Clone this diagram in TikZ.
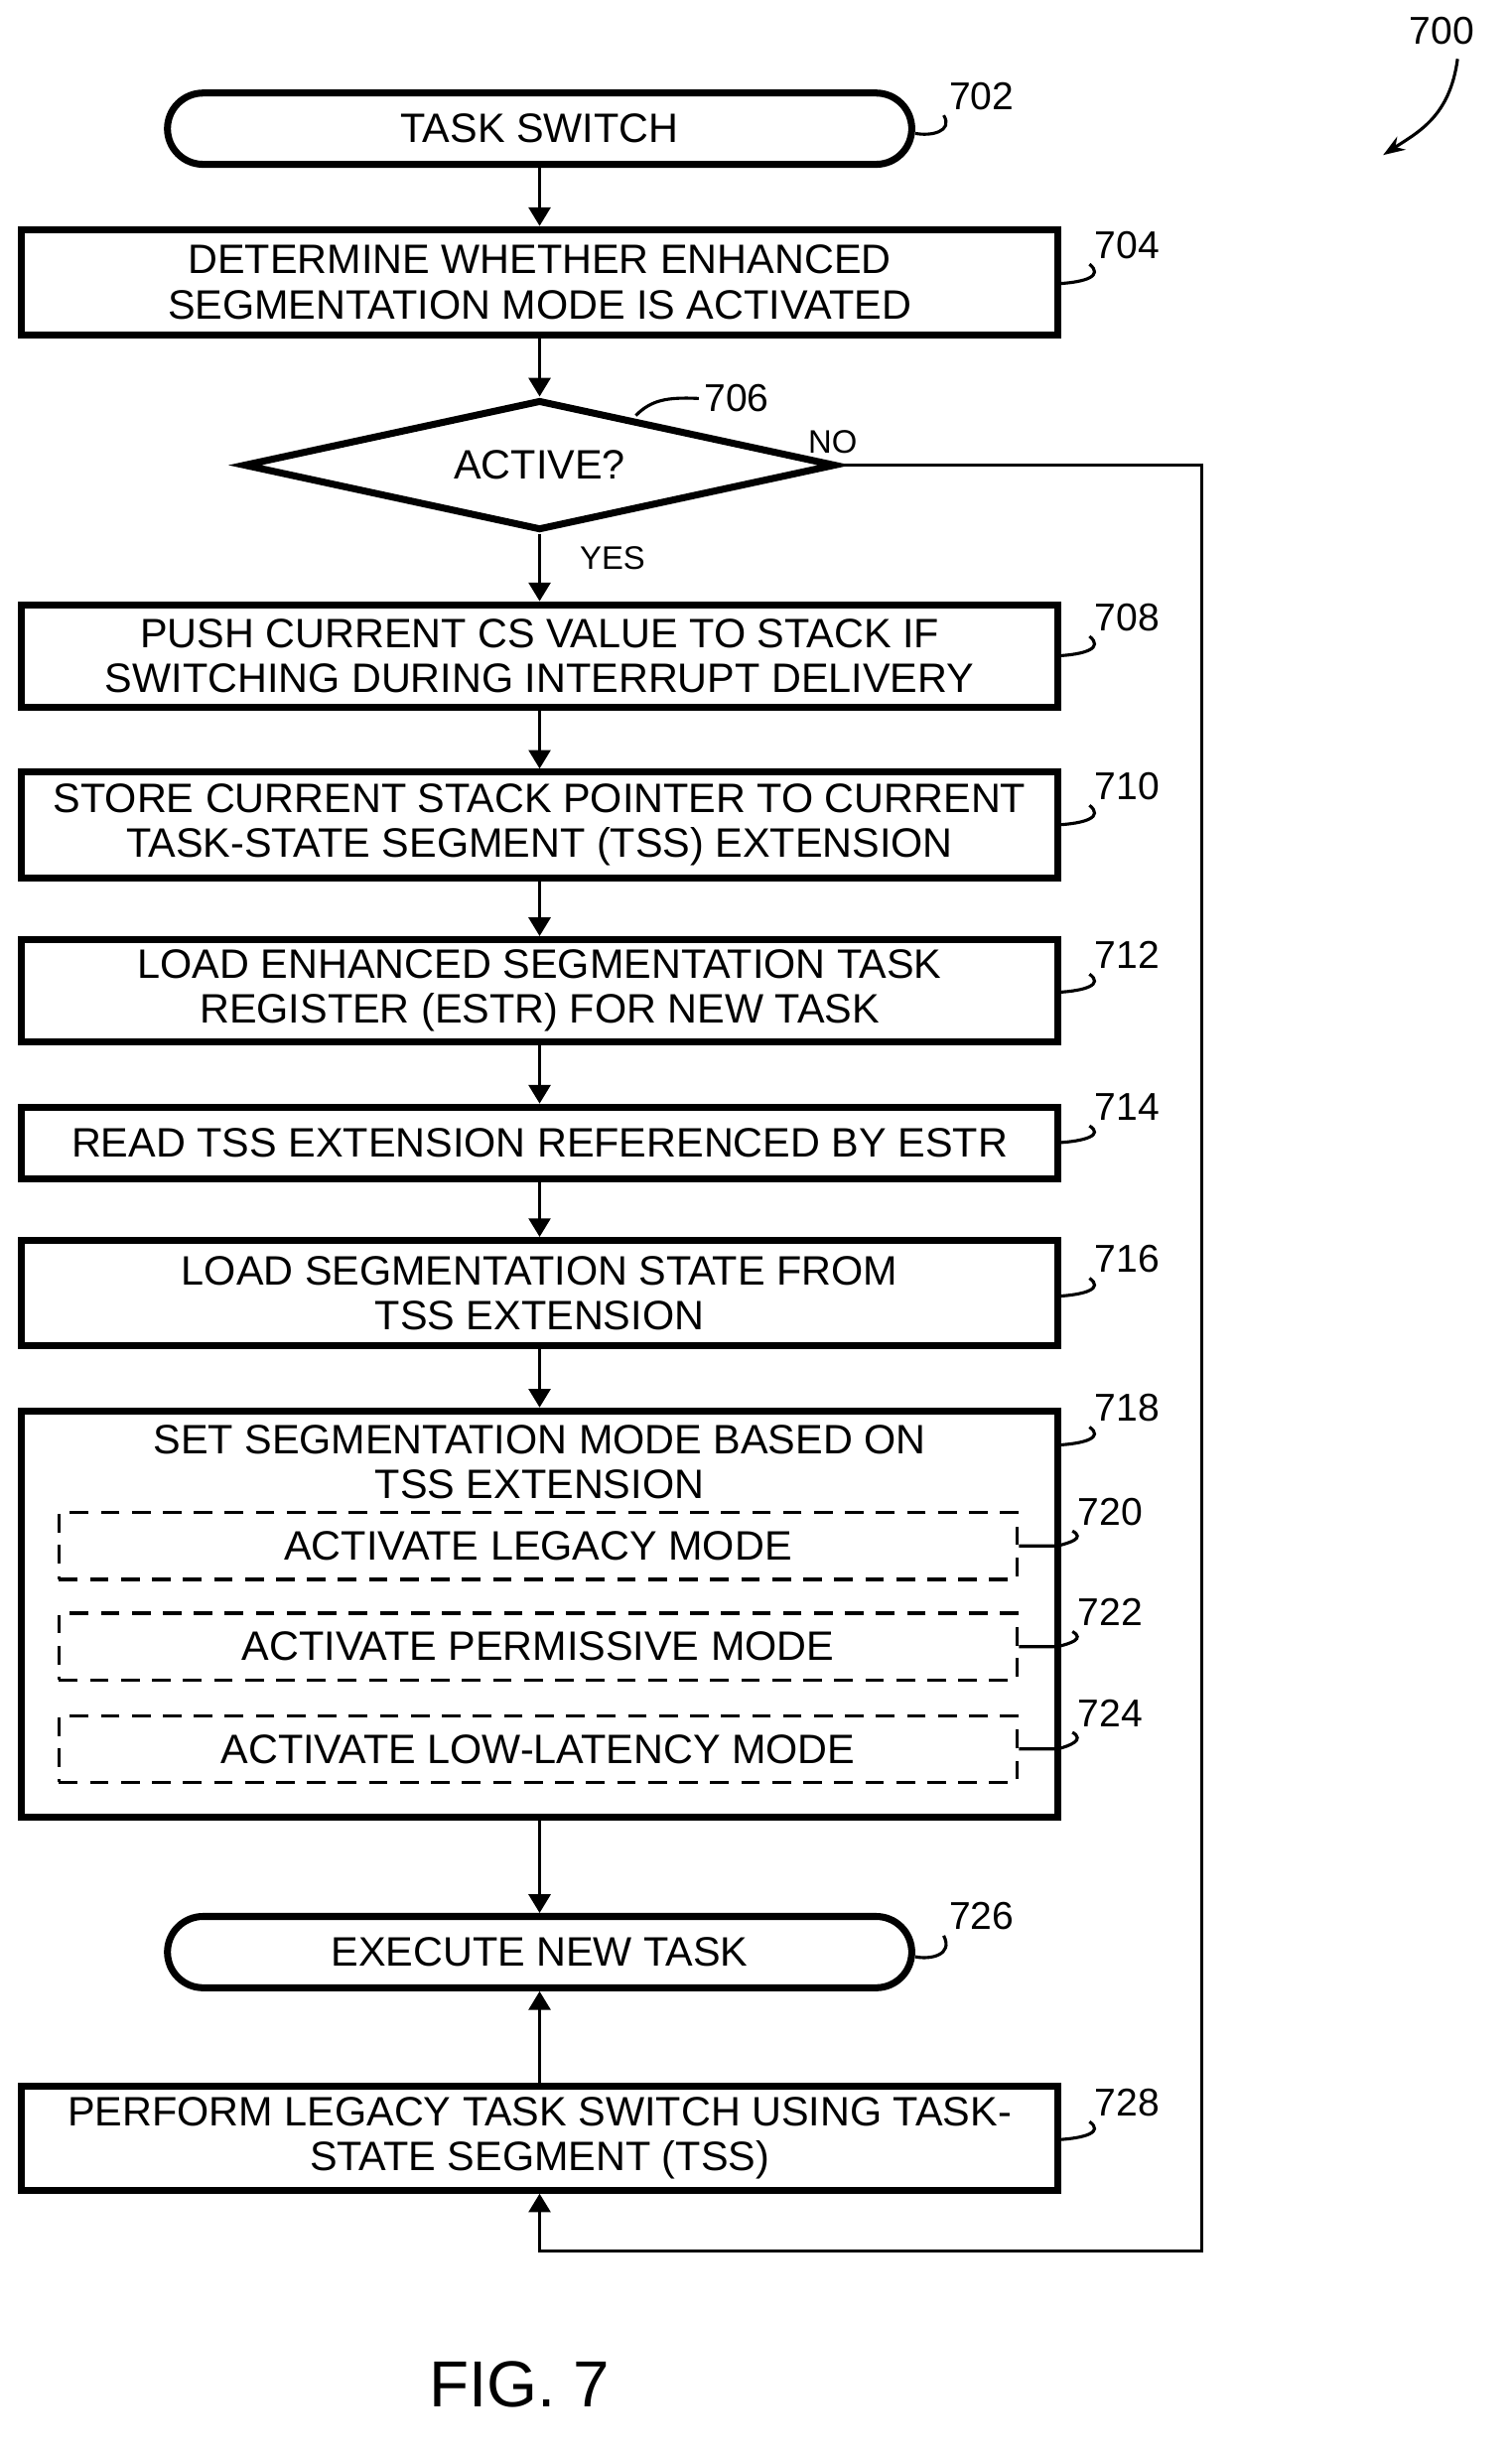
\documentclass[tikz,border=0pt]{standalone}
\usepackage{fontspec}
\setmainfont{Liberation Sans}
\usetikzlibrary{shapes.geometric,arrows.meta}
\begin{document}
\begin{tikzpicture}[x=1pt,y=-1pt,
  box/.style={draw,line width=4.5pt,minimum width=668pt,align=center,font=\fontsize{26.5}{29}\selectfont,inner sep=0pt},
  term/.style={draw,line width=4.5pt,rounded corners=23pt,minimum width=480pt,minimum height=46pt,font=\fontsize{26.5}{29}\selectfont},
  dbox/.style={draw,line width=2.2pt,dash pattern=on 12pt off 8pt,minimum width=618pt,minimum height=43pt,font=\fontsize{26.5}{29}\selectfont},
  lab/.style={font=\fontsize{25}{28}\selectfont},
  arr/.style={line width=2pt,-{Triangle[length=12pt,width=14pt]}},
  lead/.style={line width=2pt}]
\useasboundingbox (0,0) rectangle (975,1584);
\node[term] (n702) at (348,83) {TASK SWITCH};
\node[box,minimum height=68pt] (n704) at (348,182) {DETERMINE WHETHER ENHANCED\\SEGMENTATION MODE IS ACTIVATED};
\node[diamond,draw,line width=4.5pt,minimum width=382pt,minimum height=84pt,aspect=4.5,inner sep=0pt,font=\fontsize{26.5}{29}\selectfont] (n706) at (348,300) {ACTIVE?};
\node[box,minimum height=66pt] (n708) at (348,423) {PUSH CURRENT CS VALUE TO STACK IF\\SWITCHING DURING INTERRUPT DELIVERY};
\node[box,minimum height=68pt] (n710) at (348,532) {STORE CURRENT STACK POINTER TO CURRENT\\TASK-STATE SEGMENT (TSS) EXTENSION};
\node[box,minimum height=66pt] (n712) at (348,639) {LOAD ENHANCED SEGMENTATION TASK\\REGISTER (ESTR) FOR NEW TASK};
\node[box,minimum height=46pt] (n714) at (348,737) {READ TSS EXTENSION REFERENCED BY ESTR};
\node[box,minimum height=68pt] (n716) at (348,834) {LOAD SEGMENTATION STATE FROM\\TSS EXTENSION};
\node[box,minimum height=262pt] (n718) at (348,1041) {};
\node[font=\fontsize{26.5}{29}\selectfont,align=center] (t718) at (348,943) {SET SEGMENTATION MODE BASED ON\\TSS EXTENSION};
\node[dbox] (n720) at (347,997) {ACTIVATE LEGACY MODE};
\node[dbox] (n722) at (347,1062) {ACTIVATE PERMISSIVE MODE};
\node[dbox] (n724) at (347,1128) {ACTIVATE LOW-LATENCY MODE};
\node[term] (n726) at (348,1259) {EXECUTE NEW TASK};
\node[box,minimum height=67pt] (n728) at (348,1379) {PERFORM LEGACY TASK SWITCH USING TASK-\\STATE SEGMENT (TSS)};
\node[font=\fontsize{42}{46}\selectfont] (fig) at (335,1538) {FIG. 7};
\draw[arr] (n702) -- (n704);
\draw[arr] (n704) -- (n706);
\draw[arr] (n706) -- (n708);
\draw[arr] (n708) -- (n710);
\draw[arr] (n710) -- (n712);
\draw[arr] (n712) -- (n714);
\draw[arr] (n714) -- (n716);
\draw[arr] (n716) -- (n718);
\draw[arr] (n718) -- (n726);
\draw[arr] (n728) -- (n726);
\coordinate (c1) at (775,300);
\coordinate (c2) at (775,1452);
\coordinate (c3) at (348,1452);
\draw[arr] (n706.east) -- (c1) -- (c2) -- (c3) -- (n728.south);
\node[lab,font=\fontsize{21}{24}\selectfont] (no) at (537,285) {NO};
\node[lab,font=\fontsize{21}{24}\selectfont] (yes) at (395,360) {YES};
\node[lab] (l700) at (930,20) {700};
\coordinate (a700) at (940,38);
\draw[line width=2pt,-{Stealth[length=14pt,width=10pt]}] (a700) .. controls (935,75) and (915,85) .. (892,100);
\node[lab] (l702) at (633,62) {702};
\draw[lead] (n702.east) ++(0,3) .. controls (600,88) and (615,85) .. (l702.south west);
\node[lab] (l704) at (727,158) {704};
\draw[lead] (682,183) .. controls (700,182) and (712,178) .. (l704.south west);
\node[lab] (l706) at (475,257) {706};
\draw[lead] (410,268) .. controls (420,258) and (430,256) .. (l706.west);
\node[lab] (l708) at (727,398) {708};
\draw[lead] (682,423) .. controls (700,422) and (712,418) .. (l708.south west);
\node[lab] (l710) at (727,507) {710};
\draw[lead] (682,532) .. controls (700,531) and (712,527) .. (l710.south west);
\node[lab] (l712) at (727,616) {712};
\draw[lead] (682,640) .. controls (700,639) and (712,635) .. (l712.south west);
\node[lab] (l714) at (727,714) {714};
\draw[lead] (682,737) .. controls (700,736) and (712,732) .. (l714.south west);
\node[lab] (l716) at (727,812) {716};
\draw[lead] (682,836) .. controls (700,835) and (712,831) .. (l716.south west);
\node[lab] (l718) at (727,908) {718};
\draw[lead] (682,932) .. controls (700,931) and (712,927) .. (l718.south west);
\node[lab] (l720) at (716,975) {720};
\draw[lead] (n720.east) -- (682,997) .. controls (690,995) and (700,992) .. (l720.south west);
\node[lab] (l722) at (716,1040) {722};
\draw[lead] (n722.east) -- (682,1062) .. controls (690,1060) and (700,1057) .. (l722.south west);
\node[lab] (l724) at (716,1105) {724};
\draw[lead] (n724.east) -- (682,1128) .. controls (690,1126) and (700,1122) .. (l724.south west);
\node[lab] (l726) at (633,1236) {726};
\draw[lead] (n726.east) ++(0,3) .. controls (600,1264) and (615,1261) .. (l726.south west);
\node[lab] (l728) at (727,1356) {728};
\draw[lead] (682,1380) .. controls (700,1379) and (712,1375) .. (l728.south west);
\end{tikzpicture}
\end{document}
